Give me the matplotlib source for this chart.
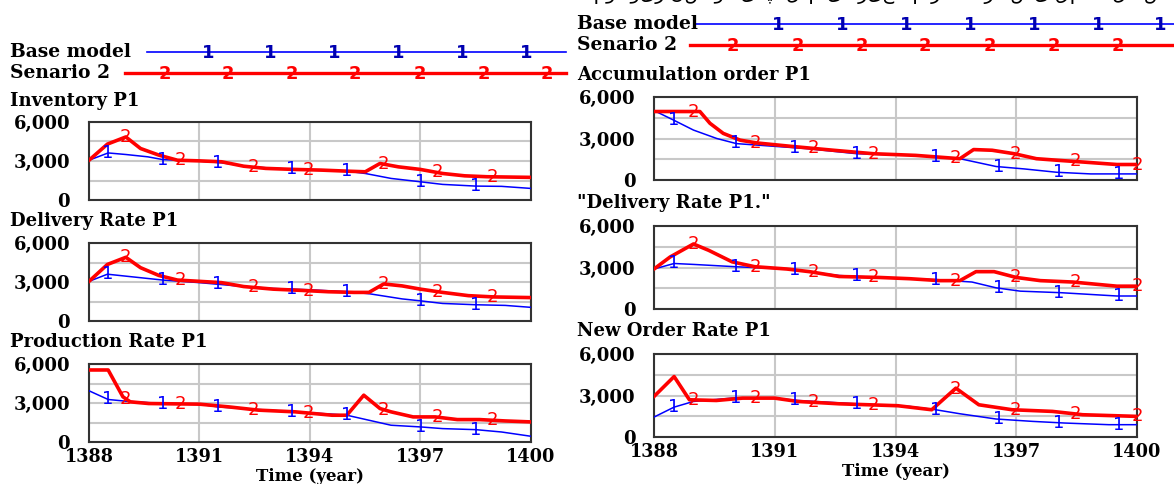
import numpy as np
import matplotlib
matplotlib.use("Agg")
from matplotlib import pyplot as plt

# time offsets are in years after 1388
years = [1388, 1391, 1394, 1397, 1400]

# Inventory P1
inv_t_base = [0, 0.52, 1.0, 1.6, 2.0, 3.0, 3.6, 4.4, 5.1, 6.0, 7.0, 7.5, 8.2, 9.0, 9.6, 10.5, 11.2, 12]
inv_base = [3060, 3620, 3500, 3320, 3110, 2990, 2860, 2550, 2430, 2300, 2220, 2040, 1660, 1400, 1200, 1070, 1050, 890]
inv_t_scn = [0, 0.5, 1.0, 1.4, 1.9, 2.4, 3.0, 3.6, 4.2, 4.8, 5.6, 6.3, 7.0, 7.5, 7.9, 8.4, 9.0, 9.6, 10.2, 10.8, 12]
inv_scn = [3060, 4300, 4850, 3960, 3450, 3060, 3010, 2940, 2600, 2430, 2350, 2300, 2220, 2170, 2810, 2550, 2350, 2040, 1860, 1790, 1740]

# Delivery Rate P1 (left)
dl_t_base = [0, 0.5, 1.0, 2.0, 3.0, 4.0, 5.0, 6.0, 7.0, 7.6, 8.5, 9.0, 9.6, 10.5, 11.3, 12]
dl_base = [3050, 3600, 3450, 3150, 2950, 2700, 2500, 2400, 2250, 2100, 1700, 1550, 1350, 1250, 1200, 1050]
dl_t_scn = [0, 0.5, 1.0, 1.4, 1.9, 2.4, 3.0, 3.6, 4.2, 5.0, 5.8, 6.5, 7.2, 7.6, 8.0, 8.5, 9.0, 9.6, 10.3, 11.0, 12]
dl_scn = [3050, 4350, 4900, 4100, 3500, 3150, 3050, 2950, 2650, 2450, 2350, 2250, 2200, 2200, 2850, 2700, 2450, 2200, 1950, 1850, 1800]

# Production Rate P1
pr_t_base = [0, 0.52, 1.0, 2.0, 3.0, 3.5, 4.6, 5.6, 6.6, 7.0, 7.6, 8.2, 9.0, 9.6, 10.5, 11.2, 12]
pr_base = [3940, 3270, 3140, 2960, 2910, 2700, 2500, 2320, 2140, 2060, 1675, 1290, 1160, 1030, 950, 770, 440]
pr_t_scn = [0, 0.52, 0.92, 1.12, 1.62, 3.0, 3.8, 4.6, 5.6, 6.6, 7.0, 7.46, 7.9, 8.2, 8.8, 9.4, 10.0, 10.6, 11.3, 12]
pr_scn = [5540, 5540, 3480, 3090, 2960, 2910, 2700, 2450, 2320, 2060, 2060, 3600, 2575, 2320, 1930, 1930, 1725, 1725, 1620, 1545]

# Accumulation order P1
ac_t_base = [0, 0.48, 0.98, 1.56, 2.05, 2.96, 3.8, 5.04, 6.45, 7.6, 8.5, 9.2, 10.0, 10.85, 12]
ac_base = [5020, 4340, 3610, 3000, 2630, 2440, 2270, 1900, 1780, 1540, 975, 800, 560, 440, 440]
ac_t_scn = [0, 1.14, 1.39, 1.72, 2.14, 2.55, 3.38, 4.46, 5.45, 6.5, 7.6, 7.94, 8.4, 8.95, 9.5, 10.1, 10.7, 11.5, 12]
ac_scn = [4950, 4950, 4100, 3370, 2880, 2680, 2440, 2150, 1900, 1780, 1540, 2200, 2150, 1900, 1540, 1410, 1290, 1120, 1120]

# "Delivery Rate P1." (right)
dr_t_base = [0, 0.5, 1.0, 2.0, 3.3, 4.6, 5.6, 7.0, 7.9, 8.5, 9.1, 10.1, 11.5, 12]
dr_base = [2890, 3290, 3220, 3060, 2890, 2420, 2280, 2120, 1950, 1530, 1290, 1180, 940, 940]
dr_t_scn = [0, 0.4, 0.98, 1.36, 1.94, 2.5, 3.3, 3.86, 4.6, 5.6, 6.35, 7.1, 7.6, 8.0, 8.45, 9.0, 9.6, 10.4, 11.5, 12]
dr_scn = [2890, 3760, 4700, 4240, 3410, 3060, 2890, 2700, 2350, 2280, 2190, 2050, 2050, 2700, 2700, 2280, 2050, 1950, 1650, 1650]

# New Order Rate P1
no_t_base = [0, 0.5, 0.98, 1.94, 3.0, 3.57, 5.0, 6.35, 7.0, 7.6, 8.5, 9.4, 10.2, 11.3, 12]
no_base = [1440, 2160, 2570, 2810, 2810, 2640, 2400, 2210, 1970, 1680, 1300, 1130, 1010, 890, 890]
no_t_scn = [0, 0.5, 0.88, 1.55, 2.2, 3.0, 3.57, 4.6, 6.06, 6.9, 7.5, 8.07, 8.9, 9.9, 10.65, 12]
no_scn = [2930, 4370, 2690, 2640, 2810, 2810, 2570, 2400, 2260, 1970, 3530, 2330, 1970, 1850, 1610, 1490]

# where the "1"/"2" series labels sit along each line
mk_left_base = [0.52, 2.0, 3.5, 5.5, 7.0, 9.0, 10.5]
mk_left_scn = [1.0, 2.47, 4.46, 5.96, 8.0, 9.45, 10.95]
mk_right_base = [0.5, 2.02, 3.5, 5.04, 7.0, 8.57, 10.06, 11.55]
mk_right_scn = [0.98, 2.51, 3.96, 5.45, 7.48, 8.97, 10.46, 12.0]

BLUE = "#0000ff"
RED = "#ff0000"
SERIF = "DejaVu Serif"

fig = plt.figure(figsize=(11.74, 4.84), dpi=100)
W, H = 1174.0, 484.0


def panel(px, title, tb, vb, ts, vs, mkb, mks, xlab=False):
    x0, y0, x1, y1, tx, ty = px
    ax = fig.add_axes([x0 / W, 1 - y1 / H, (x1 - x0) / W, (y1 - y0) / H])
    xb = 1388 + np.array(tb)
    xs = 1388 + np.array(ts)
    ax.plot(xb, vb, color=BLUE, lw=1.1, zorder=3)
    ax.plot(xs, vs, color=RED, lw=2.6, zorder=4)
    for m in mkb:
        ax.text(1388 + m, np.interp(m, tb, vb), "1", color=BLUE, fontsize=13,
                ha="center", va="center", zorder=5, clip_on=False)
    for m in mks:
        ax.text(1388 + m, np.interp(m, ts, vs), "2", color=RED, fontsize=13,
                ha="center", va="center", zorder=6, clip_on=False)
    ax.set_xlim(1388, 1400)
    ax.set_ylim(0, 6000)
    ax.set_xticks(years)
    ax.set_yticks([0, 1500, 3000, 4500, 6000])
    ax.set_yticklabels(["0", "", "3,000", "", "6,000"], fontfamily=SERIF,
                       fontweight="bold", fontsize=13)
    if xlab:
        ax.set_xticklabels([str(y) for y in years], fontfamily=SERIF,
                           fontweight="bold", fontsize=12.7)
        ax.set_xlabel("Time (year)", fontfamily=SERIF, fontweight="bold",
                      fontsize=12, labelpad=1)
    else:
        ax.set_xticklabels([])
    ax.tick_params(length=0, pad=13.5, axis="y")
    ax.tick_params(length=0, pad=4.5, axis="x")
    ax.grid(True, color="#c8c8c8", lw=1.5)
    ax.set_axisbelow(True)
    for s in ax.spines.values():
        s.set_color("#333333")
        s.set_linewidth(1.5)
    fig.text(tx / W, 1 - ty / H, title, fontfamily=SERIF,
             fontweight="bold", fontsize=13, ha="left", va="center")
    return ax


panel((89, 122, 531, 200, 10, 101), "Inventory P1", inv_t_base, inv_base,
      inv_t_scn, inv_scn, mk_left_base, mk_left_scn)
panel((89, 243, 531, 321, 10, 221), "Delivery Rate P1", dl_t_base, dl_base,
      dl_t_scn, dl_scn, mk_left_base, mk_left_scn)
panel((89, 364, 531, 442, 10, 342), "Production Rate P1", pr_t_base, pr_base,
      pr_t_scn, pr_scn, mk_left_base, mk_left_scn, xlab=True)
panel((654, 97, 1137, 180, 577, 75), "Accumulation order P1", ac_t_base, ac_base,
      ac_t_scn, ac_scn, mk_right_base, mk_right_scn)
panel((654, 226, 1137, 309, 577, 203), "\"Delivery Rate P1.\"", dr_t_base, dr_base,
      dr_t_scn, dr_scn, mk_right_base, mk_right_scn)
panel((654, 354, 1137, 437, 577, 331), "New Order Rate P1", no_t_base, no_base,
      no_t_scn, no_scn, mk_right_base, mk_right_scn, xlab=True)

# legends drawn on an overlay in pixel units
ov = fig.add_axes([0, 0, 1, 1], zorder=10)
ov.set_xlim(0, W)
ov.set_ylim(H, 0)
ov.axis("off")


def legend_row(x_text, y, label, x0, x1, marks, char, color, mcolor):
    ov.text(x_text, y, label, fontfamily=SERIF, fontweight="bold", fontsize=13.5,
            ha="left", va="center")
    ov.plot([x0, x1], [y, y], color=color, lw=1.2 if char == "1" else 2.4)
    for m in marks:
        ov.text(m, y + 1, char, color=mcolor, fontsize=13, fontweight="bold",
                ha="center", va="center")


legend_row(10, 52, "Base model", 147, 566, [208, 270, 334, 398, 462, 526], "1", BLUE, "#0000b0")
legend_row(10, 73, "Senario 2", 125, 566, [165, 228, 292, 355, 420, 484, 547], "2", RED, RED)
legend_row(577, 24, "Base model", 695, 1174, [778, 842, 906, 970, 1034, 1098, 1160], "1", BLUE, "#0000b0")
legend_row(577, 45, "Senario 2", 690, 1174, [733, 798, 862, 925, 990, 1054, 1118], "2", RED, RED)

# caption line of the source page, cut off at the top edge
caption = "شکل ۶- مقایسه رفتار متغیرهای مدل پایه و سناریو دوم"
ov.text(1168, -6, caption[::-1], fontfamily="DejaVu Sans", fontsize=14,
        ha="right", va="center")

fig.savefig("out.png", dpi=100)
